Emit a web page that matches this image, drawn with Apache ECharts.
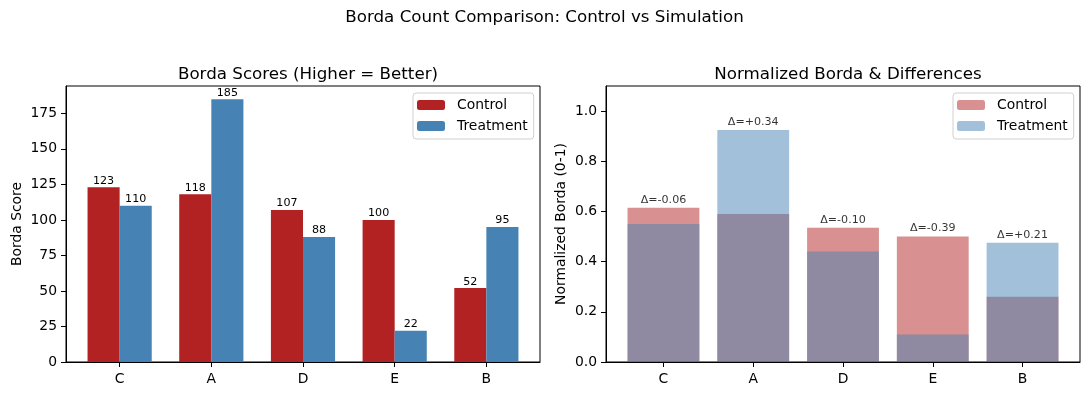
<!DOCTYPE html>
<html>
<head>
<meta charset="utf-8">
<script src="https://cdn.jsdelivr.net/npm/echarts@6/dist/echarts.min.js"></script>
<style>
html,body{margin:0;padding:0;background:#fff;}
#chart{width:1089px;height:396px;}
</style>
</head>
<body>
<div id="chart"></div>
<script>
// ---- data ----
const categories = ['C', 'A', 'D', 'E', 'B'];
const controlScores = [123, 118, 107, 100, 52];
const treatmentScores = [110, 185, 88, 22, 95];
const maxScore = 200;
const leftYTicks = [0, 25, 50, 75, 100, 125, 150, 175];
const rightYTicks = [0.0, 0.2, 0.4, 0.6, 0.8, 1.0];

// ---- derived ----
const controlNorm = controlScores.map(v => v / maxScore);
const treatmentNorm = treatmentScores.map(v => v / maxScore);
const deltas = treatmentNorm.map((t, i) => t - controlNorm[i]);
const deltaLabels = deltas.map(d => 'Δ=' + (d >= 0 ? '+' : '-') + Math.abs(d).toFixed(2));

// ---- layout constants ----
const FONT = 'DejaVu Sans';
const plotW = 474, plotH = 276, plotTop = 86;
const leftL = 66, rightL = 606;
const barW1 = 0.35;
const xMin1 = -barW1 - 0.05 * (categories.length - 1 + 2 * barW1);
const xMax1 = categories.length - 1 + barW1 + 0.05 * (categories.length - 1 + 2 * barW1);
const barW2 = 0.8;
const xMin2 = -barW2 / 2 - 0.05 * (categories.length - 1 + barW2);
const xMax2 = categories.length - 1 + barW2 / 2 + 0.05 * (categories.length - 1 + barW2);
const px1 = barW1 * plotW / (xMax1 - xMin1);
const px2 = barW2 * plotW / (xMax2 - xMin2);
const yMax1 = Math.max(...controlScores, ...treatmentScores) * 1.05;
const idx = categories.map((_, i) => i);

const axisLine = {show: true, onZero: false, lineStyle: {color: '#000', width: 1}};
const axisTick = {show: true, inside: false, length: 5, lineStyle: {color: '#000', width: 1}};
const tickFont = {color: '#000', fontFamily: FONT, fontSize: 13.9};

function xAxisDef(gi, mn, mx) {
  return {
    type: 'value', gridIndex: gi, min: mn, max: mx,
    axisLine: axisLine,
    axisTick: Object.assign({}, axisTick, {customValues: idx}),
    axisLabel: Object.assign({}, tickFont, {margin: 10, customValues: idx, formatter: v => categories[Math.round(v)]}),
    splitLine: {show: false}
  };
}

const chart = echarts.init(document.getElementById('chart'), null, {renderer: 'canvas'});
chart.setOption({
  animation: false,
  backgroundColor: '#fff',
  title: [
    {text: 'Borda Count Comparison: Control vs Simulation', left: 'center', top: 4,
     textStyle: {fontFamily: FONT, fontSize: 16.7, fontWeight: 'normal', color: '#000'}},
    {text: 'Borda Scores (Higher = Better)', left: leftL + plotW / 2, textAlign: 'center', top: 61,
     textStyle: {fontFamily: FONT, fontSize: 16.7, fontWeight: 'normal', color: '#000'}},
    {text: 'Normalized Borda & Differences', left: rightL + plotW / 2, textAlign: 'center', top: 61,
     textStyle: {fontFamily: FONT, fontSize: 16.7, fontWeight: 'normal', color: '#000'}}
  ],
  legend: [
    {data: ['Control', 'Treatment'], orient: 'vertical', left: 413, top: 93,
     itemWidth: 28, itemHeight: 10, itemGap: 5, padding: [4, 6, 5, 4],
     borderColor: '#d0d0d0', borderWidth: 1, borderRadius: 3, backgroundColor: 'rgba(255,255,255,0.8)',
     textStyle: {fontFamily: FONT, fontSize: 13.9, color: '#000', padding: [0, 0, 0, 7], lineHeight: 16}},
    {data: ['Control2', 'Treatment2'], orient: 'vertical', left: 953, top: 93,
     itemWidth: 28, itemHeight: 10, itemGap: 5, padding: [4, 6, 5, 4],
     formatter: n => n.replace('2', ''),
     borderColor: '#d0d0d0', borderWidth: 1, borderRadius: 3, backgroundColor: 'rgba(255,255,255,0.8)',
     textStyle: {fontFamily: FONT, fontSize: 13.9, color: '#000', padding: [0, 0, 0, 7], lineHeight: 16}}
  ],
  grid: [
    {left: leftL, top: plotTop, width: plotW, height: plotH, show: true, borderColor: '#000', borderWidth: 1, backgroundColor: 'transparent'},
    {left: rightL, top: plotTop, width: plotW, height: plotH, show: true, borderColor: '#000', borderWidth: 1, backgroundColor: 'transparent'}
  ],
  xAxis: [xAxisDef(0, xMin1, xMax1), xAxisDef(1, xMin2, xMax2)],
  yAxis: [
    {type: 'value', gridIndex: 0, min: 0, max: yMax1, interval: 25,
     name: 'Borda Score', nameLocation: 'middle', nameGap: 42, nameRotate: 90,
     nameTextStyle: {fontFamily: FONT, fontSize: 13.9, color: '#000'},
     axisLine: axisLine,
     axisTick: Object.assign({}, axisTick, {customValues: leftYTicks}),
     axisLabel: Object.assign({}, tickFont, {margin: 9, customValues: leftYTicks}),
     splitLine: {show: false}},
    {type: 'value', gridIndex: 1, min: 0, max: 1.1, interval: 0.2,
     name: 'Normalized Borda (0-1)', nameLocation: 'middle', nameGap: 38, nameRotate: 90,
     nameTextStyle: {fontFamily: FONT, fontSize: 13.9, color: '#000'},
     axisLine: axisLine,
     axisTick: Object.assign({}, axisTick, {customValues: rightYTicks}),
     axisLabel: Object.assign({}, tickFont, {margin: 9, customValues: rightYTicks, formatter: v => v.toFixed(1)}),
     splitLine: {show: false}}
  ],
  series: [
    {name: 'Control', type: 'bar', xAxisIndex: 0, yAxisIndex: 0, barWidth: px1, barGap: '-100%',
     itemStyle: {color: '#b22222'},
     data: controlScores.map((v, i) => [i - barW1 / 2, v]),
     label: {show: true, position: 'top', distance: 1, fontFamily: FONT, fontSize: 11.1, color: '#000',
             formatter: p => String(p.value[1])}},
    {name: 'Treatment', type: 'bar', xAxisIndex: 0, yAxisIndex: 0, barWidth: px1, barGap: '-100%',
     itemStyle: {color: '#4682b4'},
     data: treatmentScores.map((v, i) => [i + barW1 / 2, v]),
     label: {show: true, position: 'top', distance: 1, fontFamily: FONT, fontSize: 11.1, color: '#000',
             formatter: p => String(p.value[1])}},
    {name: 'Control2', type: 'bar', xAxisIndex: 1, yAxisIndex: 1, barWidth: px2, barGap: '-100%',
     itemStyle: {color: '#b22222', opacity: 0.5},
     data: controlNorm.map((v, i) => [i, v])},
    {name: 'Treatment2', type: 'bar', xAxisIndex: 1, yAxisIndex: 1, barWidth: px2, barGap: '-100%',
     itemStyle: {color: '#4682b4', opacity: 0.5},
     data: treatmentNorm.map((v, i) => [i, v])},
    {name: 'delta', type: 'scatter', xAxisIndex: 1, yAxisIndex: 1, symbolSize: 0, silent: true,
     data: idx.map(i => [i, Math.max(controlNorm[i], treatmentNorm[i]) + 0.01]),
     label: {show: true, position: 'top', distance: 0, fontFamily: FONT, fontSize: 11.1, color: '#000',
             formatter: p => deltaLabels[p.dataIndex]}}
  ]
});
</script>
</body>
</html>
